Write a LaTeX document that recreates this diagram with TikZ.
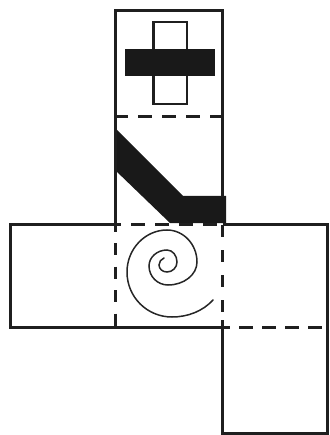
\documentclass[tikz,border=0pt]{standalone}
\tikzset{px/.style={x=1pt,y=-1pt},ln/.style={line width=3pt,draw=black!88},thin box/.style={line width=2.7pt,draw=black!88},blk/.style={fill=black!90,draw=none}}
\begin{document}
\begin{tikzpicture}[px]
\useasboundingbox (0,0) rectangle (329,435);
\draw[thin box] (153.5,22) rectangle (187,104);
\fill[blk] (125,49) rectangle (214.5,76);
\fill[blk] (115,128) -- (183,196) -- (226,196) -- (226,223) -- (170,223) -- (115,170) -- cycle;
\draw[ln,line cap=rect] (115,224) -- (115,11) -- (222.5,11) -- (222.5,196);
\draw[ln,dash pattern=on 14pt off 10pt] (114,117) -- (222.5,117);
\draw[ln,line join=miter] (115,224) -- (10,224) -- (10,327) -- (230,327);
\draw[ln,line join=miter] (222.5,224) -- (327.5,224) -- (327.5,433) -- (222.5,433) -- (222.5,320);
\draw[ln,dash pattern=on 14pt off 10pt,dash phase=8pt] (115,224) -- (222.5,224);
\draw[ln,dash pattern=on 12pt off 11.5pt,dash phase=4.5pt] (115,224) -- (115,327);
\draw[ln,dash pattern=on 12pt off 13pt] (222.5,225) -- (222.5,327);
\draw[ln,dash pattern=on 14pt off 9pt] (239,327) -- (327,327);
\draw[line width=1.5pt,draw=black!85,line cap=round] (164,258)
 .. controls (161,259) and (159,262) .. (159,265)
 .. controls (159,268.9) and (162.6,272) .. (167,272)
 .. controls (172.5,272) and (177,267.5) .. (177,262)
 .. controls (177,255.4) and (172.5,250) .. (167,250)
 .. controls (157.1,250) and (149,257.2) .. (149,266)
 .. controls (149,276.5) and (157.5,285) .. (168,285)
 .. controls (184,285) and (197,274.7) .. (197,262)
 .. controls (197,244.4) and (183.5,230) .. (167,230)
 .. controls (145,230) and (127,249) .. (127,272)
 .. controls (127,297) and (147,317) .. (172,317)
 .. controls (188,317) and (203,311) .. (213,300);
\end{tikzpicture}
\end{document}
